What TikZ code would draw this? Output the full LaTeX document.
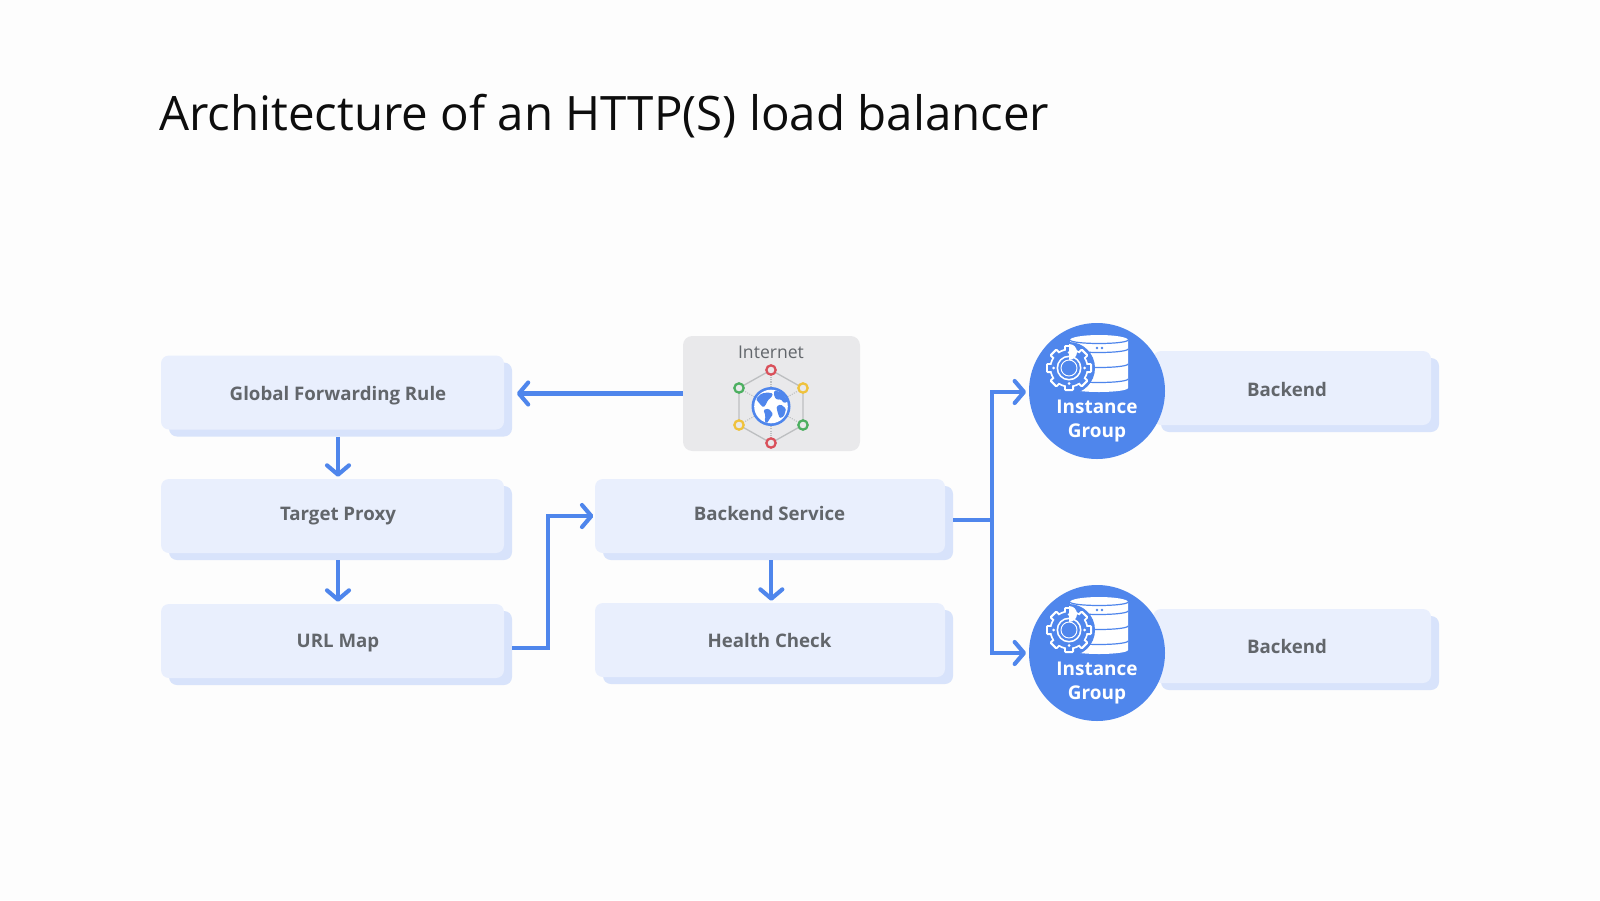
\documentclass[tikz,border=0pt]{standalone}
\usepackage{fontspec}
\setmainfont{Open Sans}
\usetikzlibrary{arrows.meta,calc}
\definecolor{bgc}{HTML}{FDFDFD}
\definecolor{front}{HTML}{E9EFFD}
\definecolor{back}{HTML}{D8E3FB}
\definecolor{flowc}{HTML}{4F86EC}
\definecolor{txt}{HTML}{62666B}
\definecolor{inet}{HTML}{E9E9EB}
\definecolor{hexc}{HTML}{BDBFC1}
\definecolor{rd}{HTML}{D9505A}
\definecolor{gn}{HTML}{4CAF60}
\definecolor{yl}{HTML}{EFC23C}
\tikzset{
  x=0.75pt,y=-0.75pt,
  frontbox/.style={draw=none,fill=front,rounded corners=6pt,minimum width=#1*0.75pt,minimum height=55.5pt,inner sep=0pt},
  backbox/.style={draw=none,fill=back,rounded corners=6pt,minimum width=#1*0.75pt,minimum height=55.5pt,inner sep=0pt},
  boxlabel/.style={anchor=base,inner sep=0pt,font=\fontsize{14}{17}\selectfont\bfseries,text=txt},
  flow/.style={draw=flowc,line width=3.1pt,-{Straight Barb[length=7pt,width=16.5pt,line width=3.1pt,round]}},
  flowline/.style={draw=flowc,line width=3.1pt},
  ringn/.style={circle,draw=#1,line width=1.7pt,fill=inet,minimum size=7pt,inner sep=0pt},
  igroup/.style={circle,fill=flowc,minimum size=102pt,inner sep=0pt},
  iglabel/.style={anchor=base,text=white,font=\fontsize{14.2}{17}\selectfont\bfseries,inner sep=0pt},
}
\newcommand{\boxpair}[7]{% name, cx, cy, width, text, text x, baseline y
  \node[backbox=#4] (#1s) at (#2+8,#3+7) {};
  \node[frontbox=#4] (#1) at (#2,#3) {};
  \node[boxlabel] (#1t) at (#6,#7) {#5};
}
\newcommand{\igicon}[3]{% name cx cy of blue circle
  \node[igroup] (#1) at (#2,#3) {};
  \begin{scope}[shift={(#2,#3)}]
    % database
    \fill[white] (-27,-51) -- (31,-51) -- (31,-3) arc[start angle=0,end angle=-180,x radius=29,y radius=-4] -- cycle;
    \fill[white] (2,-51) ellipse[x radius=29,y radius=5];
    \draw[flowc,line width=.9pt] (-27,-51) arc[start angle=180,end angle=360,x radius=29,y radius=-3.5];
    \foreach \yy in {-42,-27,-12}{
      \draw[flowc,line width=.9pt] (-27,\yy) arc[start angle=180,end angle=360,x radius=29,y radius=-3.5];
    }
    \fill[flowc] (0,-43) circle[radius=1.3] (5,-43) circle[radius=1.3];
    % gear
    \fill[flowc] (-28,-23) circle[radius=26];
    \foreach \aa in {0,45,...,315}{
      \fill[white,rounded corners=1pt,rotate around={\aa:(-28,-23)}] (-33,-46) rectangle (-23,-33);
    }
    \fill[white] (-28,-23) circle[radius=19.5];
    \foreach \aa in {0,45,...,315}{
      \fill[flowc,rotate around={\aa:(-28,-23)}] (-31,-43.8) rectangle (-25,-33);
    }
    \fill[flowc] (-28,-23) circle[radius=17.7];
    \foreach \aa in {0,90,180,270}{
      \fill[white,rotate around={\aa:(-28,-23)}] (-28,-38.5) circle[radius=1.5];
    }
    \fill[white] (-28,-23) circle[radius=12.5];
    \fill[flowc] (-28,-23) circle[radius=10.8];
    \fill[white] (-28,-31) arc[start angle=90,end angle=-90,radius=8] -- cycle;
    \draw[white,line width=.7pt] (-28,-23) circle[radius=8];
  \end{scope}
  \node[iglabel] (#1t1) at (#2,#3+22) {Instance};
  \node[iglabel] (#1t2) at (#2,#3+46) {Group};
}
\begin{document}
\begin{tikzpicture}
\useasboundingbox (0,0) rectangle (1600,900);
\fill[bgc] (0,0) rectangle (1600,900);
\node[anchor=west,inner sep=0pt,text=black!95,font=\fontsize{35.6}{42}\selectfont] (title) at (159,116) {Architecture of an HTTP(S) load balancer};

% left column
\boxpair{gfr}{332.5}{392.5}{343}{Global Forwarding Rule}{338}{400}
\boxpair{tp}{332.5}{516}{343}{Target Proxy}{338}{520.5}
\boxpair{um}{332.5}{641}{343}{URL Map}{338}{647}
% centre column
\boxpair{bs}{770}{516}{350}{Backend Service}{769.5}{520.5}
\boxpair{hc}{770}{640}{350}{Health Check}{769.5}{647}
% right column
\boxpair{ba}{1292}{388}{278}{Backend}{1287}{396}
\boxpair{bb}{1292}{646}{278}{Backend}{1287}{653}

% internet
\node[fill=inet,rounded corners=7pt,minimum width=132.75pt,minimum height=86.25pt,inner sep=0pt] (inet) at (771.5,393.5) {};
\node[text=txt,font=\fontsize{13.2}{16}\selectfont,inner sep=0pt] (inetl) at (771,352) {Internet};
\coordinate (hT) at (771,370);\coordinate (hUL) at (739,388);\coordinate (hUR) at (803,388);
\coordinate (hLL) at (739,425);\coordinate (hLR) at (803,425);\coordinate (hB) at (771,443);
\coordinate (hC) at (771,406.5);
\draw[hexc,line width=1pt] (hT)--(hUR)--(hLR)--(hB)--(hLL)--(hUL)--cycle;
\foreach \p in {hT,hUL,hUR,hLL,hLR,hB}{\draw[hexc,line width=.8pt,densely dotted] (hC)--(\p);}
\node[ringn=rd] (r1) at (hT) {};
\node[ringn=rd] (r2) at (hB) {};
\node[ringn=gn] (r3) at (hUL) {};
\node[ringn=gn] (r4) at (hLR) {};
\node[ringn=yl] (r5) at (hUR) {};
\node[ringn=yl] (r6) at (hLL) {};
% globe
\fill[flowc] (hC) circle[radius=19.5];
\fill[white] (hC) circle[radius=16.8];
\begin{scope}[shift={(hC)},scale=1.08]
 \fill[flowc,rounded corners=1pt] (-14,-7) -- (-9,-12) -- (-3,-13) -- (2,-12) -- (0,-8) -- (-3,-6) -- (-4,-3) -- (-7,1) -- (-10,-2) -- cycle;
 \fill[flowc,rounded corners=1pt] (-7,3) -- (-2,2) -- (2,7) -- (-1,11) -- (-4,16) -- (-6,13) -- (-5,9) -- cycle;
 \fill[flowc,rounded corners=1pt] (3,-15) -- (10,-13) -- (16,-5) -- (12,-3) -- (9,-7) -- (6,-6) -- (3,-9) -- cycle;
 \fill[flowc,rounded corners=1pt] (5,0) -- (9,-2) -- (14,2) -- (12,9) -- (8,11) -- (6,5) -- cycle;
\end{scope}

% instance groups
\igicon{iga}{1097}{391}
\igicon{igb}{1097}{653}

% connectors
\draw[flow] (inet.west) -- ([xshift=9.4pt]gfr.east |- inet.west);
\draw[flow] (gfrt |- gfrs.south) -- ([yshift=1.5pt]gfrt |- tp.north);
\draw[flow] (tpt |- tps.south) -- ([yshift=1.5pt]tpt |- um.north);
\draw[flow] (ums.east) -- ++(36,0) |- ([xshift=-1pt]bs.west);
\draw[flow] ([xshift=1pt]bss.south -| bs.south) -- ([xshift=1pt,yshift=1.5pt]hc.north);
\coordinate (jn) at (992,520);
\draw[flowline] (bss.east |- jn) -- (jn);
\draw[flow] (jn) |- ([xshift=-2pt,yshift=-.75pt]iga.west);
\draw[flow] (jn) |- ([xshift=-2pt]igb.west);
\end{tikzpicture}
\end{document}
